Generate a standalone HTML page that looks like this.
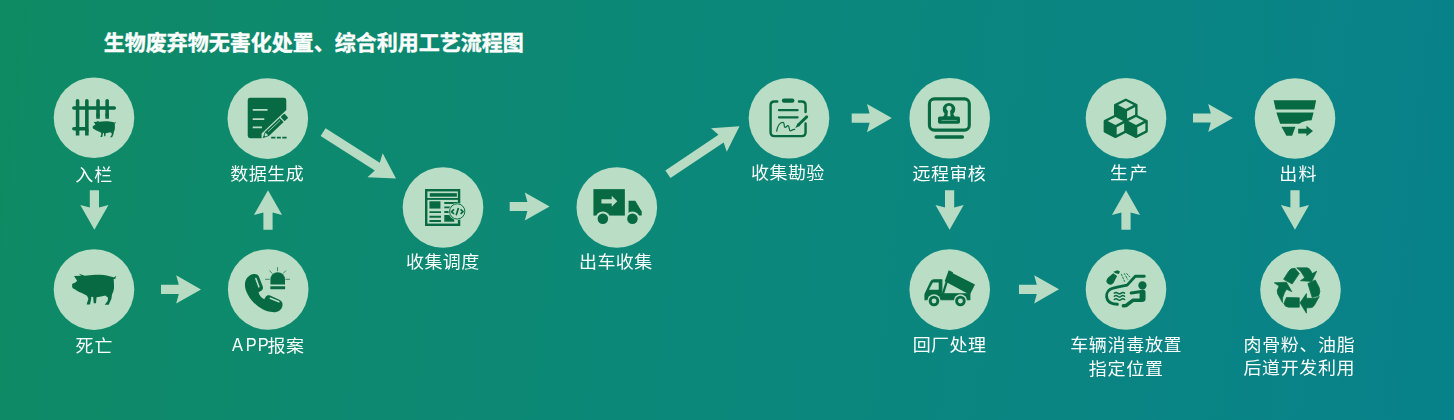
<!DOCTYPE html>
<html lang="zh-CN">
<head>
<meta charset="utf-8">
<title>生物废弃物无害化处置、综合利用工艺流程图</title>
<style>
html,body{margin:0;padding:0;}
body{width:1454px;height:420px;overflow:hidden;position:relative;
  background:linear-gradient(97deg,#0f8b62 0%,#0e8a67 5%,#0c887a 48%,#08828a 100%);
  font-family:"Liberation Sans","Noto Sans CJK SC",sans-serif;}
svg{position:absolute;left:0;top:0;display:block;will-change:transform;}
.title{position:absolute;left:103.8px;top:27.3px;margin:0;font-weight:700;font-size:21px;line-height:31px;color:#fff;white-space:nowrap;-webkit-text-stroke:0.4px #fff;}
.lbl{font-size:18px;letter-spacing:0.45px;fill:#fbfdfc;text-anchor:middle;}
</style>
</head>
<body>
<div class="title">生物废弃物无害化处置、综合利用工艺流程图</div>
<svg width="1454" height="420" viewBox="0 0 1454 420">
<g fill="#badec5">
<circle cx="94" cy="117.8" r="40.3"/>
<circle cx="267.8" cy="118.6" r="40.3"/>
<circle cx="94" cy="289.6" r="40.3"/>
<circle cx="268.2" cy="289.5" r="40.3"/>
<circle cx="443" cy="207.5" r="40.3"/>
<circle cx="616.8" cy="207.5" r="40.3"/>
<circle cx="789" cy="118.3" r="40.3"/>
<circle cx="949.7" cy="118.3" r="40.3"/>
<circle cx="1126" cy="118.3" r="40.3"/>
<circle cx="1295" cy="118.5" r="40.3"/>
<circle cx="949.7" cy="289.6" r="40.3"/>
<circle cx="1126" cy="289.5" r="40.3"/>
<circle cx="1300.5" cy="289.8" r="40.3"/>
</g>
<g fill="#b7dcc3">
<path transform="translate(94.4,190.2) rotate(90.00)" d="M0,-4.6H17.40L14.80,-14.1L39.60,0L14.80,14.1L17.40,4.6H0Z"/>
<path transform="translate(161,289.4) rotate(0.00)" d="M0,-4.6H17.80L15.20,-14.1L40.00,0L15.20,14.1L17.80,4.6H0Z"/>
<path transform="translate(268,229.8) rotate(-90.00)" d="M0,-4.6H17.40L14.80,-14.1L39.60,0L14.80,14.1L17.40,4.6H0Z"/>
<path transform="translate(323.1,132.1) rotate(32.53)" d="M0,-4.6H64.27L61.67,-14.1L86.47,0L61.67,14.1L64.27,4.6H0Z"/>
<path transform="translate(509.7,206.5) rotate(0.00)" d="M0,-4.6H17.70L15.10,-14.1L39.90,0L15.10,14.1L17.70,4.6H0Z"/>
<path transform="translate(667.9,174.3) rotate(-33.89)" d="M0,-4.6H64.06L61.46,-14.1L86.26,0L61.46,14.1L64.06,4.6H0Z"/>
<path transform="translate(851.7,118.1) rotate(0.00)" d="M0,-4.6H17.90L15.30,-14.1L40.10,0L15.30,14.1L17.90,4.6H0Z"/>
<path transform="translate(949.6,190.2) rotate(90.00)" d="M0,-4.6H17.40L14.80,-14.1L39.60,0L14.80,14.1L17.40,4.6H0Z"/>
<path transform="translate(1019,289.3) rotate(0.00)" d="M0,-4.6H17.80L15.20,-14.1L40.00,0L15.20,14.1L17.80,4.6H0Z"/>
<path transform="translate(1126,229.8) rotate(-90.00)" d="M0,-4.6H17.40L14.80,-14.1L39.60,0L14.80,14.1L17.40,4.6H0Z"/>
<path transform="translate(1193,118) rotate(0.00)" d="M0,-4.6H17.80L15.20,-14.1L40.00,0L15.20,14.1L17.80,4.6H0Z"/>
<path transform="translate(1295,190.2) rotate(90.00)" d="M0,-4.6H17.40L14.80,-14.1L39.60,0L14.80,14.1L17.40,4.6H0Z"/>
</g>
<g class="lbl">
<text transform="translate(94.2,180.5) scale(1,0.96)" style="letter-spacing:1.0px">入栏</text>
<text transform="translate(267.2,179.5) scale(1,0.96)">数据生成</text>
<text transform="translate(94.4,351.6) scale(1,0.96)" style="letter-spacing:0.8px">死亡</text>
<text transform="translate(442.8,268.3) scale(1,0.96)">收集调度</text>
<text transform="translate(615.8,268.3) scale(1,0.96)">出车收集</text>
<text transform="translate(787.9,179.3) scale(1,0.96)">收集勘验</text>
<text transform="translate(949.4,179.6) scale(1,0.96)">远程审核</text>
<text transform="translate(1129.6,179.3) scale(1,0.96)" style="letter-spacing:1.5px">生产</text>
<text transform="translate(1298.6,180.4) scale(1,0.96)" style="letter-spacing:1.4px">出料</text>
<text transform="translate(949.5,351.3) scale(1,0.96)">回厂处理</text>
<text transform="translate(1126.2,351.4) scale(1,0.96)" style="letter-spacing:0.7px">车辆消毒放置</text>
<text transform="translate(1126.2,374.7) scale(1,0.96)" style="letter-spacing:0.7px">指定位置</text>
<text transform="translate(1299.4,351.4) scale(1,0.96)" style="letter-spacing:0.65px">肉骨粉、油脂</text>
<text transform="translate(1299.3,374.4) scale(1,0.96)" style="letter-spacing:0.65px">后道开发利用</text>
<text transform="translate(232.1,350.9) scale(0.9,1)" style="text-anchor:start;font-size:18.2px;letter-spacing:0" x="0 15.2 28.5">APP</text>
<text transform="translate(267.6,351.5) scale(1,0.96)" style="text-anchor:start">报案</text>
</g>
<g transform="translate(64,88) scale(0.142857)"><!-- fence pig -->

<path fill="none" stroke="#086a43" stroke-width="25" stroke-linecap="round" d="M95,90V300M160,90V300M238,90V190M302,90V190M69,140H352M69,285H160"/>
<path fill="none" stroke="#086a43" stroke-width="25" d="M95,290V333M160,290V333M238,180V215M302,180V215"/>
<path fill="#086a43" transform="translate(171,178) scale(0.53)" d="M57,172 L57,188 Q58,198 68,201 C82,208 95,218 106,224 C125,232 145,240 161,250 L171,272 L158,311 H182 L190,275 L191,257 L204,259 L208,303 H224 L228,261 C250,257 270,253 289,248 L309,265 L305,287 L285,314 H313 L332,272 L336,242 C346,225 352,200 350,180 C350,160 349,145 347,134 L359,131 L366,111 L349,122 C338,116 328,114 319,113 C290,104 250,102 220,103 C190,104 165,107 146,110 L105,97 L119,111 L70,112 L92,146 L80,157 L66,162 Q57,164 57,172 Z"/>
</g>
<g transform="translate(64,260) scale(0.142857)"><!-- pig -->
<path fill="#086a43" d="M57,172 L57,188 Q58,198 68,201 C82,208 95,218 106,224 C125,232 145,240 161,250 L171,272 L158,311 H182 L190,275 L191,257 L204,259 L208,303 H224 L228,261 C250,257 270,253 289,248 L309,265 L305,287 L285,314 H313 L332,272 L336,242 C346,225 352,200 350,180 C350,160 349,145 347,134 L359,131 L366,111 L349,122 C338,116 328,114 319,113 C290,104 250,102 220,103 C190,104 165,107 146,110 L105,97 L119,111 L70,112 L92,146 L80,157 L66,162 Q57,164 57,172 Z"/>
</g>
<g transform="translate(238,88) scale(0.142857)"><!-- doc -->

<path fill="#086a43" d="M85,68H322Q338,68 338,84V154L165,318V352H85Q68,352 68,335V84Q68,68 85,68Z"/>
<path fill="none" stroke="#badec5" stroke-width="12" d="M103,153H207M103,218H184M103,276H168"/>
<g transform="translate(172,351) rotate(-43.5)">
<path fill="#086a43" d="M0,0L42,-20H184V20H42Z"/>
<rect fill="#086a43" x="193" y="-20" width="36" height="40" rx="5"/>
<path fill="none" stroke="#badec5" stroke-width="5" d="M58,-6H174"/>
<path fill="#badec5" d="M23,-5L42,-13V13L23,5Z"/>
</g>
<path fill="none" stroke="#086a43" stroke-width="12" d="M232,348H262M272,348H300M310,348H340"/>
</g>
<g transform="translate(238,260) scale(0.142857)"><!-- phone -->

<path fill="#086a43" transform="translate(312,98) scale(1.035) translate(-312,-98)" d="M118,98 C90,100 62,125 58,160 C52,210 90,275 150,320 C195,352 240,360 270,355 C295,350 312,330 312,305 C312,290 305,280 290,272 L228,244 C215,238 203,244 198,252 L188,268 C170,262 152,240 150,222 L168,212 C178,205 182,195 178,182 L152,115 C146,102 134,97 118,98 Z"/>
<path fill="none" stroke="#badec5" stroke-width="11" stroke-linecap="round" d="M125,130L146,188M226,268L286,292"/>
<path fill="#086a43" d="M227,172V136A51,51 0 0 1 329,136V172Z"/>
<rect fill="#086a43" x="226" y="183" width="104" height="21" rx="3"/>
<path fill="none" stroke="#086a43" stroke-width="5" d="M277,50V78M220,74L241,95M336,74L315,95M190,135H222M332,135H364"/>
</g>
<g transform="translate(412,178) scale(0.142857)"><!-- web -->

<rect fill="#086a43" x="91" y="77" width="247" height="259"/>
<rect fill="#badec5" x="108" y="94" width="213" height="46"/>
<rect fill="#086a43" x="124" y="106" width="190" height="25"/>
<rect fill="#badec5" x="108" y="153" width="213" height="166"/>
<rect fill="#086a43" x="122" y="163" width="77" height="51"/>
<path fill="none" stroke="#086a43" stroke-width="13" d="M122,239H203M122,271H203M122,301H203M226,175H321M226,206H321M226,238H321"/>
<rect fill="#086a43" x="226" y="259" width="70" height="47"/>
<circle fill="#badec5" cx="316.5" cy="234" r="61"/>
<circle fill="none" stroke="#086a43" stroke-width="7" cx="316.5" cy="234" r="53.5"/>
<path fill="none" stroke="#086a43" stroke-width="12" d="M294,220L277,236L294,252M325,210L309,261M340,220L357,236L340,252"/>
</g>
<g transform="translate(586,178) scale(0.142857)"><!-- truck -->

<rect fill="#086a43" x="52" y="78" width="220" height="185"/>
<path fill="#086a43" d="M298,160H345L390,235V263H298Z"/>
<path fill="#badec5" d="M108,148H180V125L219,163L180,201V178H108Z"/>
<circle fill="#badec5" cx="118" cy="285" r="51"/>
<circle fill="#badec5" cx="325" cy="285" r="51"/>
<circle fill="#086a43" cx="118" cy="285" r="37"/>
<circle fill="#086a43" cx="325" cy="285" r="37"/>
</g>
<g transform="translate(759,88) scale(0.142857)"><!-- clipboard -->

<path fill="none" stroke="#086a43" stroke-width="17" stroke-linecap="round" d="M128,94H108Q81,94 81,121V310Q81,337 108,337H299Q326,337 326,310V248M326,168V121Q326,94 299,94H280"/>
<rect fill="#086a43" x="160" y="73" width="88" height="31" rx="15"/>
<path fill="none" stroke="#086a43" stroke-width="16" stroke-linecap="round" d="M140,155H270M140,205H270"/>
<path fill="none" stroke="#086a43" stroke-width="20" stroke-linecap="round" d="M334,202L282,252"/>
<path fill="#086a43" d="M270,246L290,264L254,280Z"/>
<path fill="none" stroke="#086a43" stroke-width="8.5" stroke-linecap="round" d="M124,302C128,270 145,240 165,240C185,240 170,275 182,276C192,276 196,262 204,264C214,266 208,300 220,300C230,300 232,288 250,290"/>
</g>
<g transform="translate(919,88) scale(0.142857)"><!-- monitor -->

<rect fill="none" stroke="#086a43" stroke-width="22" x="73" y="76" width="279" height="219" rx="34"/>
<path fill="none" stroke="#086a43" stroke-width="23" stroke-linecap="round" d="M120,343H304"/>
<circle fill="#086a43" cx="210" cy="148" r="43.5"/>
<path fill="#086a43" d="M182,165H238Q240,195 256,205H164Q180,195 182,165Z"/>
<rect fill="#086a43" x="133" y="200" width="154" height="50" rx="12"/>
<circle fill="#badec5" cx="210" cy="142" r="18"/>
<path fill="#badec5" d="M203,150H217L221,198H199Z"/>
<path fill="none" stroke="#badec5" stroke-width="3.5" d="M158,227H264"/>
</g>
<g transform="translate(1096,88) scale(0.142857)"><!-- cubes -->
<path fill="#086a43" stroke="#086a43" stroke-width="16" stroke-linejoin="round" d="M208.5,82L283.0,119.5V192.5L208.5,230.0L134.0,192.5V119.5Z"/><path fill="#badec5" d="M208.5,91.5L263.0,119.5L208.5,147.5L154.0,119.5Z"/><path fill="#badec5" d="M217.5,162.0L274.0,133.5V187.5L217.5,216.0Z"/><path fill="#086a43" stroke="#086a43" stroke-width="16" stroke-linejoin="round" d="M136,194L210.5,231.5V304.5L136,342.0L61.5,304.5V231.5Z"/><path fill="#badec5" d="M136,203.5L190.5,231.5L136,259.5L81.5,231.5Z"/><path fill="#badec5" d="M145.0,274.0L201.5,245.5V299.5L145.0,328.0Z"/><path fill="#086a43" stroke="#086a43" stroke-width="16" stroke-linejoin="round" d="M280,194L354.5,231.5V304.5L280,342.0L205.5,304.5V231.5Z"/><path fill="#badec5" d="M280,203.5L334.5,231.5L280,259.5L225.5,231.5Z"/><path fill="#badec5" d="M289.0,274.0L345.5,245.5V299.5L289.0,328.0Z"/>
</g>
<g transform="translate(1265,88) scale(0.142857)"><!-- funnel -->

<path fill="#086a43" d="M60,85H358L345,150H75Z"/>
<path fill="#086a43" d="M80,172H340L326,226C290,226 262,236 240,250H106Z"/>
<path fill="#086a43" d="M115,272H213L190,335H150Z"/>
<path fill="#086a43" d="M232,285H290V265L336,301L290,338V318H232Z"/>
</g>
<g transform="translate(919,260) scale(0.142857)"><!-- dump -->

<path fill="#086a43" stroke="#086a43" stroke-width="8" stroke-linejoin="round" d="M42,240L82,154Q90,139 106,139H160V236H356V278H42Z"/>
<path fill="#badec5" d="M70,208L97,157H138V208Z"/>
<path fill="#086a43" d="M208,71L238,86L236,92L392,172L356,243L180,148Z"/>
<path fill="none" stroke="#086a43" stroke-width="16" d="M168,236L198,140"/>
<circle fill="#badec5" cx="105" cy="287" r="47"/>
<circle fill="#badec5" cx="290" cy="287" r="47"/>
<circle fill="#086a43" cx="105" cy="287" r="37"/>
<circle fill="#086a43" cx="290" cy="287" r="37"/>
<circle fill="#badec5" cx="105" cy="287" r="17"/>
<circle fill="#badec5" cx="290" cy="287" r="17"/>
</g>
<g transform="translate(1096,260) scale(0.142857)"><!-- wash -->

<path fill="none" stroke="#086a43" stroke-width="20" stroke-linecap="round" stroke-linejoin="round" d="M338,114H275L218,176C180,186 130,190 100,205C75,220 68,250 80,278C92,300 120,308 150,310"/>
<circle fill="#086a43" cx="325" cy="178" r="29"/>
<path fill="none" stroke="#086a43" stroke-width="42" stroke-linecap="round" d="M326,228V272"/>
<path fill="none" stroke="#086a43" stroke-width="21" stroke-linecap="round" d="M318,220L246,231"/>
<path fill="none" stroke="#086a43" stroke-width="25" stroke-linecap="round" stroke-linejoin="round" d="M322,282H258L212,318L192,320"/>
<path fill="none" stroke="#086a43" stroke-width="10" stroke-linecap="round" d="M128,232Q140,222 152,232T176,232T200,232M128,254Q140,244 152,254T176,254T200,254M128,276Q140,266 152,276T176,276T200,276"/>
<path fill="#086a43" d="M72,150Q75,125 100,110L120,92L148,112L136,135Q125,165 110,172Q85,178 72,150Z"/>
<path fill="#086a43" d="M122,82L150,72L168,80L160,98L135,92Z"/>
<path fill="none" stroke="#086a43" stroke-width="6" stroke-linecap="round" stroke-dasharray="12 10" d="M178,100L200,150M198,95L222,135M215,95L236,118"/>
</g>
<g transform="translate(1265,260) scale(0.142857)"><!-- recycle -->

<g fill="#086a43" stroke="#086a43" stroke-width="5" stroke-linejoin="round">
<path d="M130,135L165,80Q180,55 210,58L240,95L190,168Z"/>
<path d="M222,55H295Q312,57 322,78L330,95L362,78L328,150L248,145L278,125L262,98Q250,75 222,55Z"/>
<path d="M300,165L352,140L378,190Q392,220 375,250L330,262Z" />
<path d="M380,255L345,318Q335,335 312,335H290V372L245,300L290,235V268H330Q360,268 380,255Z"/>
<path d="M240,265V330H165Q140,330 132,305L150,262Z"/>
<path d="M122,298L90,240Q78,215 95,190L98,182L65,160L150,155L188,222L152,205L138,225Q118,262 122,298Z"/>
</g>
</g>
</svg>
</body>
</html>
